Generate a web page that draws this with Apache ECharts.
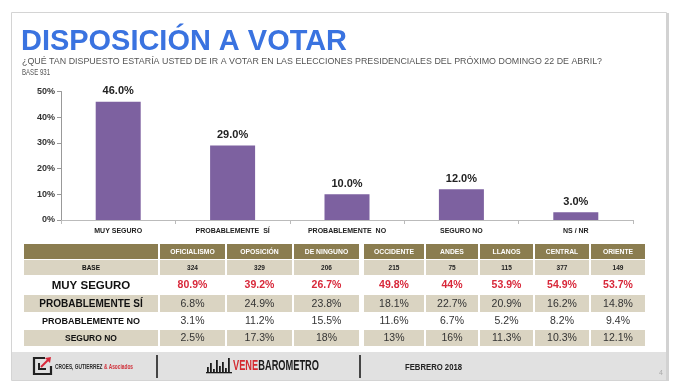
<!DOCTYPE html>
<html><head><meta charset="utf-8">
<script src="https://cdn.jsdelivr.net/npm/echarts@6/dist/echarts.min.js"></script>
<style>html,body{margin:0;padding:0;background:#fff}#c{width:680px;height:390px}</style>
</head><body><div id="c"></div>
<script>
// ---- data ----
const titleText = 'DISPOSICIÓN A VOTAR';
const subtitleText = '¿QUÉ TAN DISPUESTO ESTARÍA USTED DE IR A VOTAR EN LAS ELECCIONES PRESIDENCIALES DEL PRÓXIMO DOMINGO 22 DE ABRIL?';
const baseText = 'BASE 931';
const categories = ['MUY SEGURO', 'PROBABLEMENTE  SÍ', 'PROBABLEMENTE  NO', 'SEGURO NO', 'NS / NR'];
const values = [46.0, 29.0, 10.0, 12.0, 3.0];
const tableCols = ['OFICIALISMO', 'OPOSICIÓN', 'DE NINGUNO', 'OCCIDENTE', 'ANDES', 'LLANOS', 'CENTRAL', 'ORIENTE'];
const rowLabels = ['BASE', 'MUY SEGURO', 'PROBABLEMENTE SÍ', 'PROBABLEMENTE NO', 'SEGURO NO'];
const baseRow = [324, 329, 206, 215, 75, 115, 377, 149];
const muySeguroRow = [80.9, 39.2, 26.7, 49.8, 44, 53.9, 54.9, 53.7];
const probSiRow = [6.8, 24.9, 23.8, 18.1, 22.7, 20.9, 16.2, 14.8];
const probNoRow = [3.1, 11.2, 15.5, 11.6, 6.7, 5.2, 8.2, 9.4];
const seguroNoRow = [2.5, 17.3, 18, 13, 16, 11.3, 10.3, 12.1];
const footerLeft = ['CROES, GUTIERREZ ', '& Asociados'];
const footerMid = ['VENE', 'BAROMETRO'];
const footerRight = 'FEBRERO 2018';
const pageNum = '4';

// ---- helpers ----
const FF = '"Liberation Sans", Arial, sans-serif';
const mctx = document.createElement('canvas').getContext('2d');
function fit(text, font, w) { mctx.font = font; return w / mctx.measureText(text).width; }
function txt(text, x, y, size, weight, fill, align, targetW, z) {
  const font = weight + ' ' + size + 'px ' + FF;
  const el = {
    type: 'text', x: x, y: y, z: z || 20,
    style: { text: text, font: font, fill: fill, textAlign: align || 'left', textVerticalAlign: 'middle' }
  };
  if (targetW) { el.scaleX = fit(text, font, targetW); }
  return el;
}
function rect(x, y, w, h, fill, z) {
  return { type: 'rect', z: z || 5, shape: { x: x, y: y, width: w, height: h }, style: { fill: fill } };
}

const g = [];
// slide frame
g.push({ type: 'rect', z: 1, shape: { x: 11.5, y: 12.5, width: 655, height: 368 }, style: { fill: 'none', stroke: '#d4d4d4', lineWidth: 1 } });
g.push(rect(666, 13, 3, 368, '#d2d2d2', 1));
// title
g.push(txt(titleText, 21, 42, 30, 'bold', '#3a73e0', 'left', 326));
g.push(txt(subtitleText, 22, 62, 9, 'normal', '#555', 'left', 580));
g.push(txt(baseText, 22, 73, 9, 'normal', '#555', 'left', 28));

// table layout
const OLIVE = '#8b7d50', BEIGE = '#dad4c2';
const labX = 24, labW = 134;
const colX = [160, 227, 294, 364, 426, 480, 535, 591];
const colW = [65, 65, 65, 60, 52, 53, 54, 54];
const rowY = [244, 260, 276, 295, 313, 330];
const rowH = [15, 15, 18, 17, 16, 16];
const rowBg = [OLIVE, BEIGE, '#fff', BEIGE, '#fff', BEIGE];
const labelSize = [6.5, 11.5, 10, 9, 8.5];
const rows = [baseRow, muySeguroRow, probSiRow, probNoRow, seguroNoRow];
// header
g.push(rect(labX, rowY[0], labW, rowH[0], OLIVE));
tableCols.forEach((c, i) => {
  g.push(rect(colX[i], rowY[0], colW[i], rowH[0], OLIVE));
  g.push(txt(c, colX[i] + colW[i] / 2, rowY[0] + rowH[0] / 2 + 0.5, 6.8, 'bold', '#fff', 'center'));
});
rows.forEach((row, r) => {
  const y = rowY[r + 1], h = rowH[r + 1], bg = rowBg[r + 1];
  const cy = y + h / 2 + 0.5;
  if (bg !== '#fff') g.push(rect(labX, y, labW, h, bg));
  g.push(txt(rowLabels[r], labX + labW / 2, cy, labelSize[r], 'bold', '#111', 'center'));
  row.forEach((v, i) => {
    if (bg !== '#fff') g.push(rect(colX[i], y, colW[i], h, bg));
    let s, size, weight, color;
    if (r === 0) { s = String(v); size = 6.5; weight = 'bold'; color = '#222'; }
    else if (r === 1) { s = String(v) + '%'; size = 10.5; weight = 'bold'; color = '#d8283a'; }
    else { s = String(v) + '%'; size = 10.5; weight = 'normal'; color = '#333'; }
    g.push(txt(s, colX[i] + colW[i] / 2, cy, size, weight, color, 'center'));
  });
});

// footer
g.push(rect(12, 352, 654, 28, '#e1e1e1', 2));
g.push({ type: 'polyline', z: 20, shape: { points: [[45, 358], [34, 358], [34, 374], [51, 374], [51, 366]] }, style: { fill: 'none', stroke: '#222', lineWidth: 2.2 } });
g.push({ type: 'polyline', z: 20, shape: { points: [[39, 363], [39, 369], [46, 369]] }, style: { fill: 'none', stroke: '#222', lineWidth: 2 } });
g.push({ type: 'line', z: 20, shape: { x1: 41, y1: 367, x2: 49, y2: 359 }, style: { stroke: '#d8283a', lineWidth: 2 } });
g.push({ type: 'polygon', z: 20, shape: { points: [[51, 357], [45, 358], [50, 363]] }, style: { fill: '#d8283a' } });
(function () {
  const font = 'bold 7.5px ' + FF;
  const sc = fit(footerLeft[0] + footerLeft[1], font, 78);
  g.push({ type: 'text', z: 20, x: 55, y: 367, scaleX: sc, style: { text: '{a|' + footerLeft[0] + '}{b|' + footerLeft[1] + '}', font: font, textVerticalAlign: 'middle', rich: { a: { fill: '#2a2a2a', font: font }, b: { fill: '#d0303a', font: font } } } });
  const font2 = 'bold 15px ' + FF;
  const sc2 = fit(footerMid[0] + footerMid[1], font2, 86);
  g.push({ type: 'text', z: 20, x: 233, y: 366, scaleX: sc2, style: { text: '{a|' + footerMid[0] + '}{b|' + footerMid[1] + '}', font: font2, textVerticalAlign: 'middle', rich: { a: { fill: '#d42a30', font: font2 }, b: { fill: '#1c1c1c', font: font2 } } } });
})();
// barometer icon
[[207, 6], [210, 10], [213, 4], [216, 13], [219, 7], [222, 11], [225, 5], [228, 15]].forEach(p => {
  g.push(rect(p[0], 373 - p[1], 1.8, p[1], '#1c1c1c', 20));
});
g.push(rect(206, 372, 26, 1.3, '#1c1c1c', 20));
g.push({ type: 'line', z: 20, shape: { x1: 157, y1: 355, x2: 157, y2: 378 }, style: { stroke: '#111', lineWidth: 1.5 } });
g.push({ type: 'line', z: 20, shape: { x1: 360, y1: 355, x2: 360, y2: 378 }, style: { stroke: '#111', lineWidth: 1.5 } });
g.push(txt(footerRight, 405, 367, 9.5, 'bold', '#222', 'left', 57));
g.push(txt(pageNum, 659, 373, 7, 'normal', '#aaa', 'left'));

const chart = echarts.init(document.getElementById('c'), null, { renderer: 'canvas' });
chart.setOption({
  animation: false,
  backgroundColor: '#fff',
  grid: { left: 61, right: 47, top: 91.5, bottom: 170 },
  xAxis: {
    type: 'category', data: categories,
    axisLine: { lineStyle: { color: '#bbb' } },
    axisTick: { show: true, length: 4, lineStyle: { color: '#bbb' } },
    axisLabel: { interval: 0, fontSize: 7, fontWeight: 'bold', color: '#222', fontFamily: FF, margin: 8 }
  },
  yAxis: {
    type: 'value', min: 0, max: 50, interval: 10,
    axisLine: { show: true, lineStyle: { color: '#999' } },
    axisTick: { show: true, length: 4, lineStyle: { color: '#999' } },
    splitLine: { show: false },
    axisLabel: { formatter: '{value}%', fontSize: 9, fontWeight: 'bold', color: '#333', fontFamily: FF, margin: 6 }
  },
  series: [{
    type: 'bar', data: values, barWidth: 45,
    itemStyle: { color: '#7d61a0' },
    label: { show: true, position: 'top', distance: 5, formatter: p => p.value.toFixed(1) + '%', fontSize: 11, fontWeight: 'bold', color: '#222', fontFamily: FF }
  }],
  graphic: g
});
</script>
</body></html>
